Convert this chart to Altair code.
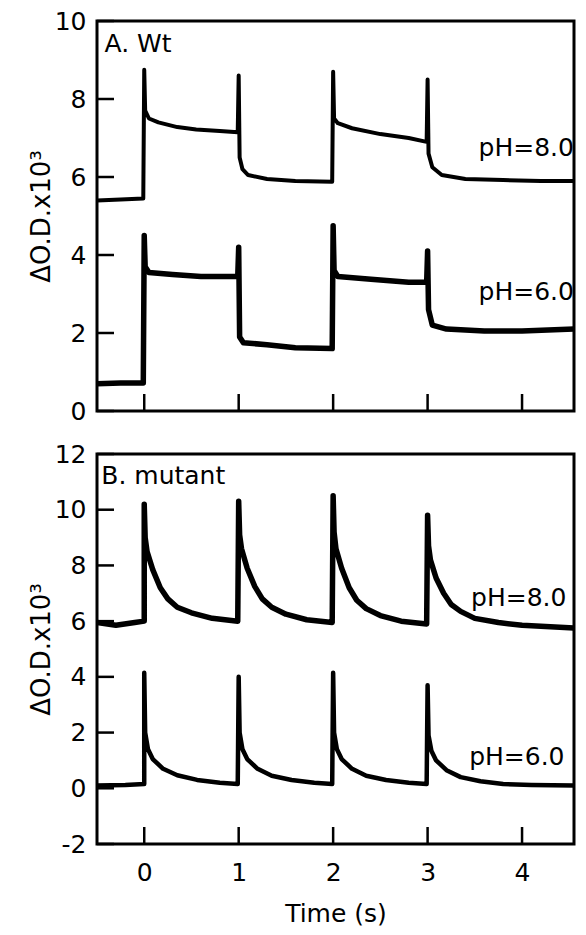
import altair as alt
import pandas as pd

FONT = "DejaVu Sans"
W, H = 477, 390
FS = 25
TICK = 17
X_DOM = [-0.5, 4.55]

# ---------------- data ----------------
# Panel A (Wt)
wt8_t = [-0.5, -0.25, -0.01, 0.0, 0.01, 0.05, 0.15, 0.35, 0.55, 0.8, 0.99,
         1.0, 1.01, 1.04, 1.1, 1.3, 1.6, 1.99,
         2.0, 2.01, 2.05, 2.2, 2.5, 2.8, 2.99,
         3.0, 3.01, 3.05, 3.15, 3.4, 3.8, 4.2, 4.55]
wt8_v = [5.4, 5.42, 5.45, 8.75, 7.7, 7.5, 7.4, 7.28, 7.22, 7.18, 7.15,
         8.6, 6.5, 6.2, 6.05, 5.95, 5.9, 5.88,
         8.7, 7.5, 7.38, 7.25, 7.1, 7.0, 6.9,
         8.5, 6.6, 6.25, 6.05, 5.95, 5.92, 5.9, 5.9]

wt6_t = [-0.5, -0.25, -0.01, 0.0, 0.01, 0.05, 0.3, 0.6, 0.99,
         1.0, 1.01, 1.05, 1.3, 1.6, 1.99,
         2.0, 2.01, 2.05, 2.4, 2.8, 2.99,
         3.0, 3.01, 3.05, 3.2, 3.6, 4.0, 4.55]
wt6_v = [0.7, 0.72, 0.72, 4.5, 3.7, 3.55, 3.5, 3.45, 3.45,
         4.2, 1.9, 1.75, 1.7, 1.62, 1.6,
         4.75, 3.6, 3.45, 3.38, 3.3, 3.3,
         4.1, 2.6, 2.2, 2.1, 2.05, 2.05, 2.1]

# Panel B (mutant)
mut8_t = [-0.5, -0.3, -0.1, 0.0, 0.0, 0.01, 0.03, 0.09, 0.17, 0.25, 0.35, 0.5, 0.72, 0.99,
          1.0, 1.01, 1.03, 1.09, 1.17, 1.25, 1.35, 1.5, 1.72, 1.99,
          2.0, 2.01, 2.03, 2.09, 2.17, 2.25, 2.35, 2.5, 2.72, 2.99,
          3.0, 3.01, 3.03, 3.09, 3.17, 3.25, 3.35, 3.5, 3.75, 4.0, 4.3, 4.55]
mut8_v = [5.95, 5.85, 5.95, 6.0, 10.2, 9.0, 8.5, 7.85, 7.2, 6.8, 6.5, 6.3, 6.1, 6.0,
          10.3, 9.1, 8.6, 7.9, 7.25, 6.8, 6.5, 6.25, 6.05, 5.95,
          10.5, 9.2, 8.6, 7.9, 7.2, 6.75, 6.45, 6.2, 6.0, 5.9,
          9.8, 8.7, 8.2, 7.55, 7.0, 6.6, 6.35, 6.1, 5.95, 5.85, 5.8, 5.75]

mut6_t = [-0.5, -0.2, 0.0, 0.0, 0.01, 0.04, 0.09, 0.2, 0.35, 0.56, 0.8, 0.99,
          1.0, 1.01, 1.04, 1.09, 1.2, 1.35, 1.56, 1.8, 1.99,
          2.0, 2.01, 2.04, 2.09, 2.2, 2.35, 2.56, 2.8, 2.99,
          3.0, 3.01, 3.04, 3.09, 3.2, 3.35, 3.56, 3.8, 4.1, 4.55]
mut6_v = [0.1, 0.12, 0.15, 4.15, 2.0, 1.4, 1.05, 0.7, 0.47, 0.3, 0.2, 0.15,
          4.0, 2.0, 1.4, 1.05, 0.7, 0.45, 0.3, 0.2, 0.15,
          4.15, 2.0, 1.4, 1.05, 0.7, 0.45, 0.3, 0.2, 0.15,
          3.7, 1.9, 1.35, 1.0, 0.65, 0.4, 0.25, 0.15, 0.12, 0.1]

x_ticks = [0, 1, 2, 3, 4]
a_y_ticks = [0, 2, 4, 6, 8, 10]
b_y_ticks = [-2, 0, 2, 4, 6, 8, 10, 12]

a_text = ["A. Wt", "pH=8.0", "pH=6.0"]
a_text_x = [-0.42, 3.54, 3.54]
a_text_y = [9.4, 6.74, 3.05]
b_text = ["B. mutant", "pH=8.0", "pH=6.0"]
b_text_x = [-0.455, 3.46, 3.44]
b_text_y = [11.2, 6.84, 1.13]

Y_TITLE = "ΔO.D.x10³"


def sdf(t, v):
    return pd.DataFrame({"t": t, "v": v, "i": list(range(len(t)))})


def panel(series, widths, ydom, yticks, texts, tx, ty, bottom):
    xs = alt.Scale(domain=X_DOM, nice=False, zero=False)
    ys = alt.Scale(domain=ydom, nice=False, zero=False)
    y_axis = alt.Axis(values=yticks, title=Y_TITLE, grid=False, domain=False,
                      ticks=True, tickSize=0, labelPadding=11,
                      labelFont=FONT, labelFontSize=FS, labelColor="black",
                      labelExpr="'' + datum.value",
                      titleFont=FONT, titleFontSize=26, titleFontWeight="normal",
                      titleColor="black", titlePadding=0)
    if bottom:
        x_axis = alt.Axis(values=x_ticks, title="Time (s)", grid=False, domain=False,
                          ticks=True, tickSize=0, labelPadding=16,
                          labelFont=FONT, labelFontSize=FS, labelColor="black",
                          titleFont=FONT, titleFontSize=FS, titleFontWeight="normal",
                          titleColor="black", titlePadding=16)
    else:
        x_axis = None
    xe = alt.X("t:Q", scale=xs, axis=x_axis)
    ye = alt.Y("v:Q", scale=ys, axis=y_axis)

    layers = []
    for (t, v), w in zip(series, widths):
        layers.append(
            alt.Chart(sdf(t, v)).mark_line(color="black", strokeWidth=w, clip=True,
                                           strokeJoin="round")
            .encode(x=xe, y=ye, order="i:Q")
        )

    # inward tick marks drawn as short line segments through the scales
    dx = TICK * (X_DOM[1] - X_DOM[0]) / W
    dy = TICK * (ydom[1] - ydom[0]) / H
    yrows = []
    for k, yv in enumerate(yticks):
        yrows.append({"t": X_DOM[0], "v": yv, "id": f"y{k}", "i": 0})
        yrows.append({"t": X_DOM[0] + dx, "v": yv, "id": f"y{k}", "i": 1})
    for k, xv in enumerate(x_ticks):
        yrows.append({"t": xv, "v": ydom[0], "id": f"x{k}", "i": 0})
        yrows.append({"t": xv, "v": ydom[0] + dy, "id": f"x{k}", "i": 1})
    tick_df = pd.DataFrame(yrows)
    layers.append(
        alt.Chart(tick_df).mark_line(color="black", strokeWidth=2.5, strokeCap="butt")
        .encode(x=xe, y=ye, detail="id:N", order="i:Q")
    )

    ann = pd.DataFrame({"t": tx, "v": ty, "label": texts})
    layers.append(
        alt.Chart(ann).mark_text(align="left", baseline="middle", font=FONT,
                                 fontSize=FS, color="black")
        .encode(x=xe, y=ye, text="label:N")
    )
    # panel frame
    layers.append(
        alt.Chart(pd.DataFrame({"f": [0]})).mark_rect(
            fillOpacity=0, stroke="black", strokeWidth=3)
        .encode(x=alt.value(0), x2=alt.value(W), y=alt.value(0), y2=alt.value(H))
    )
    return alt.layer(*layers).properties(width=W, height=H)


top = panel([(wt8_t, wt8_v), (wt6_t, wt6_v)], [4, 5.5], [0, 10], a_y_ticks,
            a_text, a_text_x, a_text_y, False)
bot = panel([(mut8_t, mut8_v), (mut6_t, mut6_v)], [5.5, 4.5], [-2, 12], b_y_ticks,
            b_text, b_text_x, b_text_y, True)

chart = (
    alt.vconcat(top, bot, spacing=43, bounds="flush")
    .properties(padding={"left": 19, "top": 0, "right": 0, "bottom": 0})
    .configure(background="white")
)

chart.save("out.html", embed_options={"renderer": "svg", "actions": False})
